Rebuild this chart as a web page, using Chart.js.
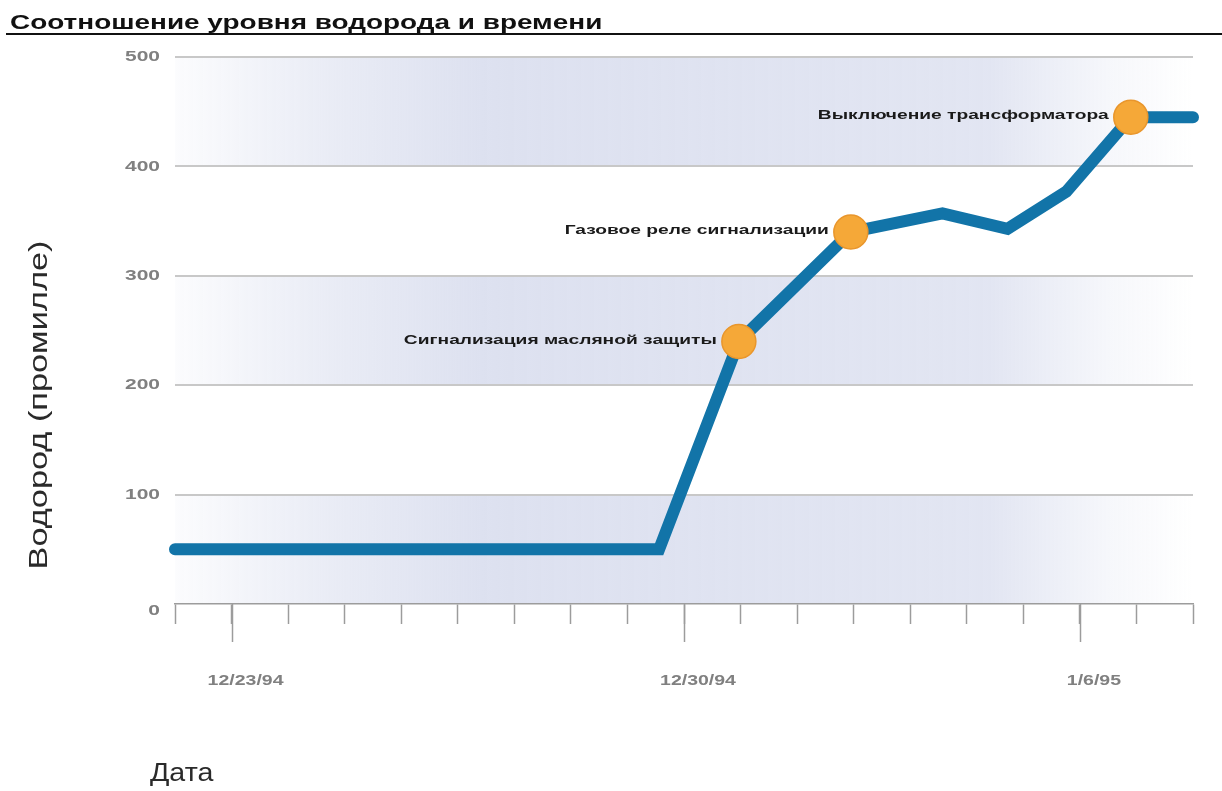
<!DOCTYPE html>
<html>
<head>
<meta charset="utf-8">
<script src="https://cdn.jsdelivr.net/npm/chart.js@4"></script>
<style>
  body { margin: 0; background: #fff; }
  canvas { display: block; }
</style>
</head>
<body>
<canvas id="myChart" width="1222" height="791"></canvas>
<script>
// values
const days = [0, 8.56, 9.97, 11.95, 13.57, 14.72, 15.76, 16.9, 18];
const hydrogen = [50, 50, 240, 340, 357, 343, 377, 445, 445];
const eventIndex = [2, 3, 7];
const eventLabels = [
  "Сигнализация масляной защиты",
  "Газовое реле сигнализации",
  "Выключение трансформатора",
];
const yTicks = [0, 100, 200, 300, 400, 500];
const xTickDays = [1, 9, 16];
const xTickLabels = ["12/23/94", "12/30/94", "1/6/95"];

const titleText = "Соотношение уровня водорода и времени";
const yTitle = "Водород (промилле)";
const xTitle = "Дата";

const lineColor = "#1274a8";
const dotColor = "#f5a838";
const tickGray = "#9c9c9c";

// draws text stretched horizontally, the reference text is wide
function wideText(ctx, text, x, y, sx, align) {
  ctx.save();
  ctx.translate(x, y);
  ctx.scale(sx, 1);
  ctx.textAlign = align;
  ctx.fillText(text, 0, 0);
  ctx.restore();
}

const decor = {
  id: "decor",
  beforeDraw: (chart) => {
    const { ctx, chartArea: a } = chart;
    const y = chart.scales.y;
    ctx.save();
    const g = ctx.createLinearGradient(a.left, 0, a.right, 0);
    g.addColorStop(0, "rgba(221,225,240,0.1)");
    g.addColorStop(0.14, "rgba(221,225,240,0.6)");
    g.addColorStop(0.3, "rgba(221,225,240,1)");
    g.addColorStop(0.8, "rgba(221,225,240,0.85)");
    g.addColorStop(0.92, "rgba(221,225,240,0.25)");
    g.addColorStop(1, "rgba(221,225,240,0)");
    ctx.fillStyle = g;
    for (let i = 0; i < yTicks.length - 1; i += 2) {
      const top = y.getPixelForValue(yTicks[i + 1]);
      const bottom = y.getPixelForValue(yTicks[i]);
      ctx.fillRect(a.left, top, a.right - a.left, bottom - top);
    }
    ctx.restore();
  },
  afterDraw: (chart) => {
    const { ctx, chartArea: a } = chart;
    const { x, y } = chart.scales;
    ctx.save();

    // title + rule under it
    ctx.fillStyle = "#111";
    ctx.font = "bold 21px 'Liberation Sans', Arial";
    ctx.textBaseline = "alphabetic";
    wideText(ctx, titleText, 10, 29, 1.33, "left");
    ctx.fillRect(6, 33, 1216, 2);

    // long ticks under the dated days
    ctx.strokeStyle = tickGray;
    ctx.lineWidth = 1.5;
    xTickDays.forEach((d) => {
      const px = Math.round(x.getPixelForValue(d)) + 0.5;
      ctx.beginPath();
      ctx.moveTo(px, a.bottom);
      ctx.lineTo(px, a.bottom + 38);
      ctx.stroke();
    });

    // tick labels
    ctx.fillStyle = "#808080";
    ctx.font = "bold 15px 'Liberation Sans', Arial";
    ctx.textBaseline = "middle";
    yTicks.forEach((v) => {
      const py = y.getPixelForValue(v) + (v === 0 ? 7 : 0);
      wideText(ctx, String(v), 160, py, 1.4, "right");
    });
    xTickDays.forEach((d, i) => {
      wideText(ctx, xTickLabels[i], x.getPixelForValue(d) + 14, 681, 1.3, "center");
    });

    // event labels next to the orange dots
    const meta = chart.getDatasetMeta(0);
    ctx.fillStyle = "#1a1a1a";
    ctx.font = "bold 12px 'Liberation Sans', Arial";
    eventIndex.forEach((idx, k) => {
      const el = meta.data[idx];
      wideText(ctx, eventLabels[k], el.x - 22, el.y - 1, 1.6, "right");
    });

    // axis titles
    ctx.fillStyle = "#2a2a2a";
    ctx.font = "26px 'Liberation Sans', Arial";
    ctx.save();
    ctx.translate(40, 405);
    ctx.rotate(-Math.PI / 2);
    wideText(ctx, yTitle, 0, 0, 1.32, "center");
    ctx.restore();
    ctx.textBaseline = "alphabetic";
    wideText(ctx, xTitle, 150, 781, 1.1, "left");

    ctx.restore();
  },
};

const ctx = document.getElementById("myChart");

new Chart(ctx, {
  type: "line",
  data: {
    datasets: [
      {
        label: "Водород",
        data: days.map((d, i) => ({ x: d, y: hydrogen[i] })),
        borderColor: lineColor,
        borderWidth: 12,
        borderCapStyle: "round",
        borderJoinStyle: "miter",
        tension: 0,
        clip: false,
        pointRadius: (c) => (eventIndex.includes(c.dataIndex) ? 17 : 0),
        pointHoverRadius: (c) => (eventIndex.includes(c.dataIndex) ? 17 : 0),
        pointBackgroundColor: dotColor,
        pointBorderColor: "#e9962c",
        pointBorderWidth: 1.5,
      },
    ],
  },
  options: {
    responsive: false,
    animation: false,
    devicePixelRatio: 1,
    layout: {
      padding: { left: 175, right: 29, top: 57, bottom: 167 },
    },
    plugins: {
      legend: { display: false },
      tooltip: { enabled: false },
      title: { display: false },
    },
    scales: {
      x: {
        type: "linear",
        min: 0,
        max: 18,
        ticks: { display: false, stepSize: 1, maxTicksLimit: 19 },
        grid: {
          drawOnChartArea: false,
          drawTicks: true,
          tickLength: 20,
          tickColor: tickGray,
          tickWidth: 1.5,
        },
        border: { display: true, color: tickGray, width: 1.5 },
      },
      y: {
        min: 0,
        max: 500,
        ticks: { display: false, stepSize: 100 },
        grid: {
          drawTicks: false,
          lineWidth: 2,
          color: (c) => (c.tick && c.tick.value === 0 ? "rgba(0,0,0,0)" : "#c8c8c8"),
        },
        border: { display: false },
      },
    },
  },
  plugins: [decor],
});
</script>
</body>
</html>
